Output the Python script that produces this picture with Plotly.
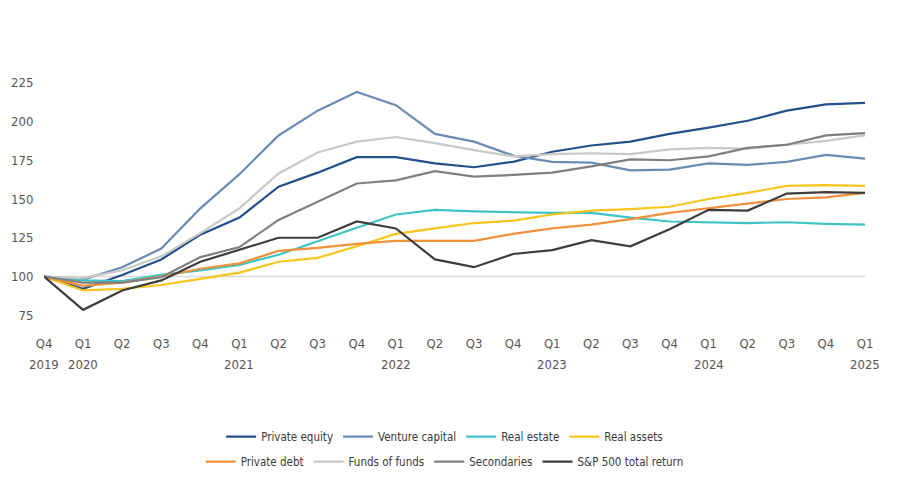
import plotly.graph_objects as go

# quarters Q4 2019 .. Q1 2025
quarters = ["Q4 2019",
            "Q1 2020", "Q2 2020", "Q3 2020", "Q4 2020",
            "Q1 2021", "Q2 2021", "Q3 2021", "Q4 2021",
            "Q1 2022", "Q2 2022", "Q3 2022", "Q4 2022",
            "Q1 2023", "Q2 2023", "Q3 2023", "Q4 2023",
            "Q1 2024", "Q2 2024", "Q3 2024", "Q4 2024",
            "Q1 2025"]
quarter_labels = [q.split()[0] for q in quarters]
year_labels = {"Q4 2019": "2019", "Q1 2020": "2020", "Q1 2021": "2021",
               "Q1 2022": "2022", "Q1 2023": "2023", "Q1 2024": "2024",
               "Q1 2025": "2025"}

private_equity = [100, 92, 101, 111, 127, 138, 158, 167, 177, 177, 173, 170.5,
                  174, 180.5, 184.5, 187, 192, 196, 200.5, 207, 211, 212]
venture_capital = [100, 98, 106, 118, 144, 166, 191, 207, 219, 210.5, 192, 187,
                   178, 174, 173.5, 168.5, 169, 173, 172, 174, 178.5, 176]
real_estate = [100, 97.5, 97, 101, 104, 107.5, 114, 123, 131.5, 140, 143, 142,
               141.5, 141, 141, 138, 135.5, 135, 134.5, 135, 134, 133.5]
real_assets = [100, 91, 92, 94.5, 98.5, 102.5, 109.5, 112, 119.5, 127.5, 131, 134.5,
               136, 140, 142.5, 143.5, 145, 150, 154, 158.5, 159, 158.5]
private_debt = [100, 94, 96, 100, 105, 108.5, 116.5, 118.5, 121, 123, 123, 123,
                127.5, 131, 133.5, 137, 141, 144, 147, 150, 151, 154]
funds_of_funds = [100, 99, 104, 113, 128, 144, 166.5, 180, 187, 190, 186, 181.5,
                  177.5, 179, 179.5, 179, 182, 183, 182.5, 185, 187.5, 191]
secondaries = [100, 96, 96, 99.5, 112.5, 119, 136.5, 148, 160, 162, 168, 164.5,
               165.5, 167, 171, 175.5, 175, 177.5, 183, 185, 191, 192.5]
sp500 = [100, 78.5, 91, 97.5, 109.5, 117, 125, 125, 135.5, 131, 111, 106,
         114.5, 117, 123.5, 119.5, 130.5, 143, 142.5, 153.5, 154.5, 154]

series = [
    ("Private equity", private_equity, "#22508a", "legend"),
    ("Venture capital", venture_capital, "#6a8cb4", "legend"),
    ("Real estate", real_estate, "#3ec3c6", "legend"),
    ("Real assets", real_assets, "#f7c51c", "legend"),
    ("Private debt", private_debt, "#f0923c", "legend2"),
    ("Funds of funds", funds_of_funds, "#c9c9c4", "legend2"),
    ("Secondaries", secondaries, "#7f7f7f", "legend2"),
    ("S&P 500 total return", sp500, "#3d3d3d", "legend2"),
]

font_family = "Liberation Sans Narrow, DejaVu Sans Condensed, Arial Narrow, sans-serif"
text_color = "#5b5552"

fig = go.Figure()

# baseline at 100
fig.add_trace(go.Scatter(x=[quarters[0], quarters[-1]], y=[100, 100], mode="lines",
                         line=dict(color="#d9d9d9", width=1.5),
                         showlegend=False, hoverinfo="skip"))

for name, vals, color, lg in series:
    fig.add_trace(go.Scatter(x=quarters, y=vals, name=name, mode="lines",
                             line=dict(color=color, width=2.2), legend=lg))

for q, yr in year_labels.items():
    fig.add_annotation(x=q, y=-0.168, xref="x", yref="paper", text=yr,
                       showarrow=False, yanchor="middle",
                       font=dict(family=font_family, size=13, color=text_color))

fig.update_layout(
    width=900, height=500,
    margin=dict(l=36, r=43, t=67, b=185),
    paper_bgcolor="white", plot_bgcolor="white",
    font=dict(family=font_family, size=13, color=text_color),
    xaxis=dict(type="category", categoryorder="array", categoryarray=quarters,
               tickmode="array", tickvals=quarters, ticktext=quarter_labels,
               range=[0, len(quarters) - 1], showgrid=False, zeroline=False,
               showline=False, ticks="outside", ticklen=8,
               tickcolor="rgba(0,0,0,0)", automargin=False),
    yaxis=dict(range=[70, 230], tickvals=[75, 100, 125, 150, 175, 200, 225],
               showgrid=False, zeroline=False, showline=False,
               ticks="outside", ticklen=7, tickcolor="rgba(0,0,0,0)",
               automargin=False),
    legend=dict(orientation="h", x=0.488, y=-0.458, xanchor="center",
                yanchor="middle", font=dict(size=11.5, color="#3a3a3a"),
                itemwidth=30, traceorder="normal"),
    legend2=dict(orientation="h", x=0.488, y=-0.559, xanchor="center",
                 yanchor="middle", font=dict(size=11.5, color="#3a3a3a"),
                 itemwidth=30, traceorder="normal"),
)

fig.write_html("out.html")
